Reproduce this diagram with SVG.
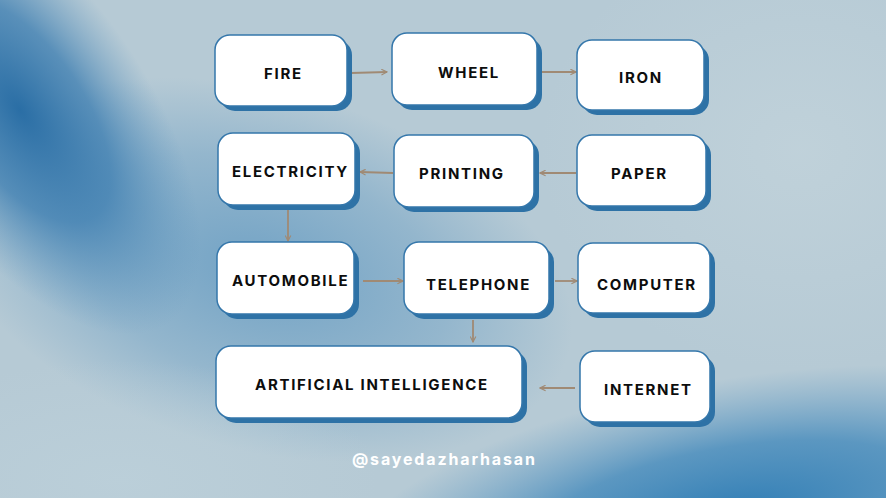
<svg xmlns="http://www.w3.org/2000/svg" width="886" height="498" viewBox="0 0 886 498">
<defs>
<radialGradient id="g1" cx="0" cy="0" r="1" gradientUnits="userSpaceOnUse" gradientTransform="translate(20 110) rotate(55) scale(260 125)">
<stop offset="0" stop-color="#2a6ea5"/>
<stop offset="0.5" stop-color="#3a7cb0" stop-opacity="0.75"/>
<stop offset="1" stop-color="#5a93bd" stop-opacity="0"/>
</radialGradient>
<radialGradient id="g2" cx="0" cy="0" r="1" gradientUnits="userSpaceOnUse" gradientTransform="translate(260 270) rotate(15) scale(320 180)">
<stop offset="0" stop-color="#6a9ec3" stop-opacity="0.9"/>
<stop offset="0.6" stop-color="#6a9ec3" stop-opacity="0.45"/>
<stop offset="1" stop-color="#6a9ec3" stop-opacity="0"/>
</radialGradient>
<radialGradient id="g3" cx="0" cy="0" r="1" gradientUnits="userSpaceOnUse" gradientTransform="translate(730 515) rotate(-10) scale(400 135)">
<stop offset="0" stop-color="#2f7db5"/>
<stop offset="0.5" stop-color="#3d86ba" stop-opacity="0.75"/>
<stop offset="1" stop-color="#5a97c2" stop-opacity="0"/>
</radialGradient>
<radialGradient id="g4" cx="0" cy="0" r="1" gradientUnits="userSpaceOnUse" gradientTransform="translate(120 480) scale(260 120)">
<stop offset="0" stop-color="#bcd0da" stop-opacity="0.8"/>
<stop offset="1" stop-color="#bcd0da" stop-opacity="0"/>
</radialGradient>
<radialGradient id="g5" cx="0" cy="0" r="1" gradientUnits="userSpaceOnUse" gradientTransform="translate(800 150) scale(260 220)">
<stop offset="0" stop-color="#c2d3db" stop-opacity="0.8"/>
<stop offset="1" stop-color="#c2d3db" stop-opacity="0"/>
</radialGradient>
<marker id="ah" viewBox="0 0 10 10" refX="9" refY="5" markerWidth="7" markerHeight="7" markerUnits="userSpaceOnUse" orient="auto">
<path d="M1 1 L9 5 L1 9" fill="none" stroke="#a08a74" stroke-width="1.6"/>
</marker>
</defs>
<style>
.sh{fill:#2e72a6}
.bx{fill:#ffffff;stroke:#3577ab;stroke-width:1.5}
.lb{font-family:Inter,"Noto Sans","DejaVu Sans",sans-serif;font-weight:700;font-size:15px;letter-spacing:1.7px;fill:#0d0d0d}
.cn{stroke:#a08a74;stroke-width:1.8;fill:none;marker-end:url(#ah)}
.wm{font-family:Inter,"Noto Sans","DejaVu Sans",sans-serif;font-weight:700;font-size:16px;letter-spacing:1.85px;fill:#ffffff}
</style>
<rect width="886" height="498" fill="#b6cad5"/>
<rect width="886" height="498" fill="url(#g5)"/>
<rect width="886" height="498" fill="url(#g2)"/>
<rect width="886" height="498" fill="url(#g4)"/>
<rect width="886" height="498" fill="url(#g1)"/>
<rect width="886" height="498" fill="url(#g3)"/>

<g id="connectors">
<line class="cn" x1="351" y1="73" x2="387" y2="72"/>
<line class="cn" x1="541" y1="72" x2="576" y2="72"/>
<line class="cn" x1="576" y1="173" x2="540" y2="173"/>
<line class="cn" x1="393" y1="173" x2="360" y2="172"/>
<line class="cn" x1="288" y1="210" x2="288" y2="241"/>
<line class="cn" x1="363" y1="281" x2="403" y2="281"/>
<line class="cn" x1="555" y1="281" x2="577" y2="281"/>
<line class="cn" x1="473" y1="320" x2="473" y2="342"/>
<line class="cn" x1="575" y1="388" x2="540" y2="388"/>
</g>

<g id="fire"><rect class="sh" x="220" y="40" width="132" height="71" rx="15"/><rect class="bx" x="215" y="35" width="132" height="71" rx="15"/><text class="lb" x="264" y="79">FIRE</text></g>
<g id="wheel"><rect class="sh" x="397" y="38" width="145" height="72" rx="15"/><rect class="bx" x="392" y="33" width="145" height="72" rx="15"/><text class="lb" x="438" y="78">WHEEL</text></g>
<g id="iron"><rect class="sh" x="582" y="45" width="127" height="70" rx="15"/><rect class="bx" x="577" y="40" width="127" height="70" rx="15"/><text class="lb" x="619" y="83">IRON</text></g>
<g id="paper"><rect class="sh" x="582" y="140" width="129" height="71" rx="15"/><rect class="bx" x="577" y="135" width="129" height="71" rx="15"/><text class="lb" x="611" y="179">PAPER</text></g>
<g id="printing"><rect class="sh" x="399" y="140" width="140" height="72" rx="15"/><rect class="bx" x="394" y="135" width="140" height="72" rx="15"/><text class="lb" x="419" y="179">PRINTING</text></g>
<g id="electricity"><rect class="sh" x="223" y="138" width="137" height="72" rx="15"/><rect class="bx" x="218" y="133" width="137" height="72" rx="15"/><text class="lb" x="232" y="177">ELECTRICITY</text></g>
<g id="automobile"><rect class="sh" x="222" y="247" width="137" height="72" rx="15"/><rect class="bx" x="217" y="242" width="137" height="72" rx="15"/><text class="lb" x="232" y="286">AUTOMOBILE</text></g>
<g id="telephone"><rect class="sh" x="409" y="247" width="145" height="72" rx="15"/><rect class="bx" x="404" y="242" width="145" height="72" rx="15"/><text class="lb" x="426" y="290">TELEPHONE</text></g>
<g id="computer"><rect class="sh" x="583" y="248" width="132" height="70" rx="15"/><rect class="bx" x="578" y="243" width="132" height="70" rx="15"/><text class="lb" x="597" y="290">COMPUTER</text></g>
<g id="ai"><rect class="sh" x="221" y="351" width="306" height="72" rx="15"/><rect class="bx" x="216" y="346" width="306" height="72" rx="15"/><text class="lb" x="255" y="390">ARTIFICIAL INTELLIGENCE</text></g>
<g id="internet"><rect class="sh" x="585" y="356" width="130" height="71" rx="15"/><rect class="bx" x="580" y="351" width="130" height="71" rx="15"/><text class="lb" x="604" y="395">INTERNET</text></g>

<text class="wm" x="352" y="465">@sayedazharhasan</text>
</svg>
